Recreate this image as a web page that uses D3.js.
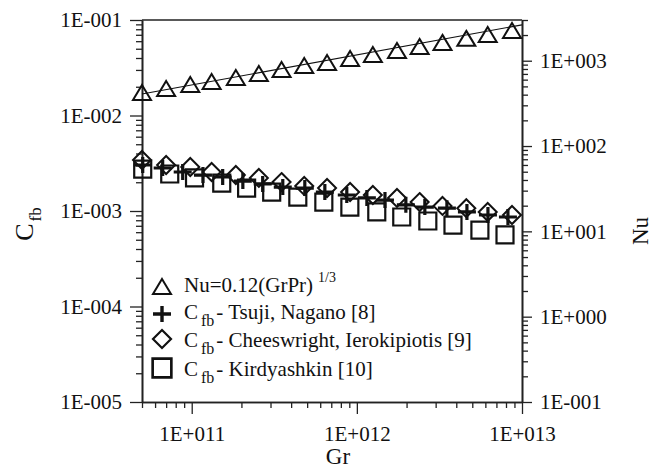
<!DOCTYPE html>
<html><head><meta charset="utf-8">
<script src="https://cdn.jsdelivr.net/npm/d3@7"></script>
<style>body{margin:0;background:#fff}svg{display:block}</style>
</head><body><svg id="c" width="659" height="468"></svg>
<script>
// ---- data ----
const nuGr = [5.0e10,7.0e10,9.8e10,1.32e11,1.85e11,2.55e11,3.5e11,4.8e11,6.6e11,9.1e11,1.25e12,1.75e12,2.4e12,3.3e12,4.6e12,6.2e12,8.7e12];
const nuVals = [419,467,520,564,628,700,780,869,942,1050,1170,1303,1452,1618,1803,2006,2235];
const fitGr = [5e10,1e13];
const fitNu = [408,2630];
const cheesGr = [5.0e10,7.0e10,9.8e10,1.32e11,1.85e11,2.55e11,3.5e11,4.8e11,6.6e11,9.1e11,1.25e12,1.75e12,2.4e12,3.3e12,4.6e12,6.2e12,8.7e12];
const cheesCfb = [3.42e-3,3.03e-3,2.89e-3,2.56e-3,2.38e-3,2.22e-3,2.01e-3,1.83e-3,1.74e-3,1.58e-3,1.47e-3,1.37e-3,1.24e-3,1.13e-3,1.07e-3,9.77e-4,9.08e-4];
const tsujiGr = [5.05e10,6.67e10,8.82e10,1.17e11,1.54e11,2.04e11,2.69e11,3.56e11,4.84e11,6.40e11,8.69e11,1.15e12,1.48e12,1.98e12,2.58e12,3.51e12,4.64e12,6.22e12,8.22e12];
const tsujiCfb = [3.03e-3,2.82e-3,2.56e-3,2.38e-3,2.27e-3,2.06e-3,1.92e-3,1.78e-3,1.74e-3,1.58e-3,1.47e-3,1.37e-3,1.30e-3,1.16e-3,1.10e-3,1.07e-3,9.77e-4,9.08e-4,8.65e-4];
const kirdGr = [5.05e10,7.36e10,1.04e11,1.52e11,2.15e11,3.05e11,4.39e11,6.31e11,9.07e11,1.32e12,1.87e12,2.69e12,3.82e12,5.56e12,7.89e12];
const kirdCfb = [2.75e-3,2.44e-3,2.22e-3,1.96e-3,1.74e-3,1.58e-3,1.40e-3,1.24e-3,1.10e-3,9.77e-4,8.65e-4,7.86e-4,7.13e-4,6.32e-4,5.61e-4];
const xDomain = [5e10,1e13];
const yLeftDomain = [1e-5,1e-1];
const yRightDomain = [0.1,3000];
const legendLabels = [
  {main:"Nu=0.12(GrPr)", sup:"1/3"},
  {sub:"fb", rest:"- Tsuji, Nagano [8]"},
  {sub:"fb", rest:"- Cheeswright, Ierokipiotis [9]"},
  {sub:"fb", rest:"- Kirdyashkin [10]"}
];

// ---- drawing ----
const svg = d3.select("#c");
const L=142,R=522,T=20,B=402;
const SERIF="'Liberation Serif'";
const x = d3.scaleLog().domain(xDomain).range([L,R]);
const yL = d3.scaleLog().domain(yLeftDomain).range([B,T]);
const yR = d3.scaleLog().domain(yRightDomain).range([B,T]);

function logTicks(dom){
  const out={major:[],minor:[]};
  const e0=Math.floor(Math.log10(dom[0]))-1, e1=Math.ceil(Math.log10(dom[1]))+1;
  for(let e=e0;e<=e1;e++)for(let m=1;m<=9;m++){
    const v=m*Math.pow(10,e);
    if(v<dom[0]*0.999||v>dom[1]*1.001)continue;
    (m===1?out.major:out.minor).push(v);
  }
  return out;
}
function fmt(v){
  const e=Math.round(Math.log10(v));
  const s=e<0?"-":"+";
  return "1E"+s+String(Math.abs(e)).padStart(3,"0");
}
function styleAxis(g){
  g.attr("font-family",null);
  g.selectAll("path.domain").attr("stroke","#222").attr("stroke-width",1.6);
  g.selectAll(".tick line").attr("stroke","#222").attr("stroke-width",1.3);
  g.selectAll("text").style("font-family",SERIF).attr("font-size",21).attr("fill","#111");
}
// left
const lt=logTicks(yLeftDomain);
svg.append("g").attr("transform",`translate(${L},0)`)
  .call(d3.axisLeft(yL).tickValues(lt.minor).tickSize(6).tickSizeOuter(0).tickFormat(""))
  .call(styleAxis);
svg.append("g").attr("transform",`translate(${L},0)`)
  .call(d3.axisLeft(yL).tickValues(lt.major).tickSize(12).tickPadding(8).tickSizeOuter(0).tickFormat(fmt))
  .call(styleAxis);
// right
const rt=logTicks(yRightDomain);
svg.append("g").attr("transform",`translate(${R},0)`)
  .call(d3.axisRight(yR).tickValues(rt.minor).tickSize(6).tickSizeOuter(0).tickFormat(""))
  .call(styleAxis);
svg.append("g").attr("transform",`translate(${R},0)`)
  .call(d3.axisRight(yR).tickValues(rt.major).tickSize(10).tickPadding(8).tickSizeOuter(0).tickFormat(fmt))
  .call(styleAxis);
// bottom
const xt=logTicks(xDomain);
svg.append("g").attr("transform",`translate(0,${B})`)
  .call(d3.axisBottom(x).tickValues(xt.minor).tickSize(6).tickSizeOuter(0).tickFormat(""))
  .call(styleAxis);
svg.append("g").attr("transform",`translate(0,${B})`)
  .call(d3.axisBottom(x).tickValues(xt.major).tickSize(12).tickPadding(12).tickSizeOuter(0).tickFormat(fmt))
  .call(styleAxis);
// top border
svg.append("line").attr("x1",L).attr("x2",R).attr("y1",T).attr("y2",T).attr("stroke","#222").attr("stroke-width",1.6);

// fit line
svg.append("path").datum(fitGr.map((g,i)=>[g,fitNu[i]]))
  .attr("d",d3.line().x(d=>x(d[0])).y(d=>yR(d[1])))
  .attr("fill","none").attr("stroke","#111").attr("stroke-width",1.1);

const shapes={
  tri:"M0,-8L9,7L-9,7Z",
  dia:"M0,-9L9,0L0,9L-9,0Z",
  sq:"M-8.5,-8.5H8.5V8.5H-8.5Z",
  plus:"M-9,0H9M0,-8V8"
};
function marks(gs,vs,ys,shape,sw){
  svg.append("g").selectAll("path").data(gs.map((g,i)=>[g,vs[i]])).join("path")
    .attr("transform",d=>`translate(${x(d[0])},${ys(d[1])})`)
    .attr("d",shapes[shape]).attr("fill","none").attr("stroke","#111")
    .attr("stroke-width",sw).attr("stroke-linejoin","miter");
}
marks(kirdGr,kirdCfb,yL,"sq",2.2);
marks(cheesGr,cheesCfb,yL,"dia",2);
marks(tsujiGr,tsujiCfb,yL,"plus",3.2);
marks(nuGr,nuVals,yR,"tri",2);

// legend
const lg=svg.append("g");
const legShapes=["tri","plus","dia","sq"];
const legY=[287,314,339,368];
const legBase=[292,319,347,376];
const legSW=[2,3.4,2.2,2.4];
legShapes.forEach((s,i)=>{
  lg.append("path").attr("transform",`translate(162,${legY[i]}) scale(${s==="sq"?1.1:1})`)
    .attr("d",shapes[s]).attr("fill","none").attr("stroke","#111").attr("stroke-width",legSW[i]);
  const t=lg.append("text").attr("x",184).attr("y",legBase[i])
    .style("font-family",SERIF).attr("font-size",21).attr("fill","#111");
  const lab=legendLabels[i];
  if(lab.main){
    t.append("tspan").text(lab.main);
    t.append("tspan").attr("dx",5).attr("dy",-10).attr("font-size",14).text(lab.sup);
  } else {
    t.append("tspan").text("C");
    t.append("tspan").attr("dx",3).attr("dy",7).attr("font-size",16).text(lab.sub);
    t.append("tspan").attr("dx",2).attr("dy",-7).text(lab.rest);
  }
});

// axis titles
svg.append("text").attr("x",338).attr("y",464).attr("text-anchor","middle")
  .style("font-family",SERIF).attr("font-size",23).attr("fill","#111").text("Gr");
svg.append("text").attr("transform","translate(648,231) rotate(-90)").attr("text-anchor","middle")
  .style("font-family",SERIF).attr("font-size",23).attr("fill","#111").text("Nu");
const ct=svg.append("text").attr("transform","translate(33,224) rotate(-90)").attr("text-anchor","middle")
  .style("font-family",SERIF).attr("font-size",26).attr("fill","#111");
ct.append("tspan").text("C");
ct.append("tspan").attr("dx",2).attr("dy",8).attr("font-size",17).text("fb");
</script></body></html>
